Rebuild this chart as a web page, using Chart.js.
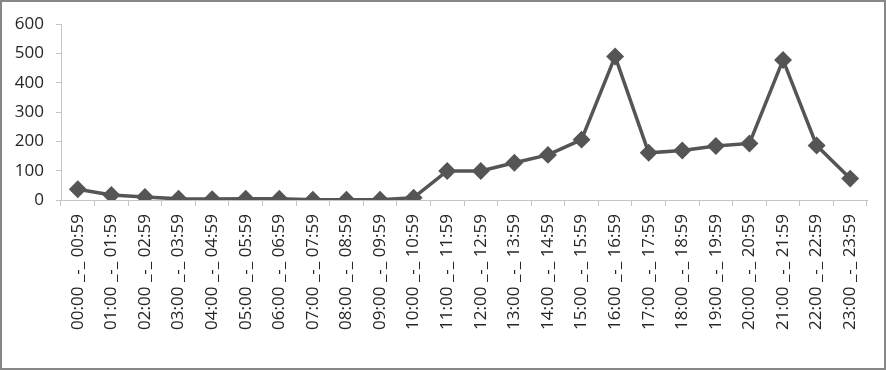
<!DOCTYPE html>
<html>
<head>
<meta charset="utf-8">
<script src="https://cdn.jsdelivr.net/npm/chart.js@4.4.1/dist/chart.umd.min.js"></script>
<style>
  html, body { margin: 0; padding: 0; background: #fff; }
  #wrap { position: relative; width: 886px; height: 370px; box-sizing: border-box; border: 2px solid #878787; }
  #chart { display: block; }
</style>
</head>
<body>
<div id="wrap"><canvas id="chart" width="882" height="366"></canvas></div>
<script>
const hours = ['00','01','02','03','04','05','06','07','08','09','10','11',
               '12','13','14','15','16','17','18','19','20','21','22','23'];
const labels = hours.map(h => `${h}:00 _-_ ${h}:59`);
const counts = [37, 17, 10, 4, 3, 4, 4, 1, 1, 1, 8, 99,
                99, 127, 154, 206, 490, 161, 169, 184, 193, 478, 186, 73];
const yTicks = [0, 100, 200, 300, 400, 500, 600];

const family = 'Open Sans, Noto Sans, sans-serif';
const axisGray = '#c4c4c4';

new Chart(document.getElementById('chart'), {
  type: 'line',
  data: {
    labels,
    datasets: [{
      data: counts,
      borderColor: '#555555', borderWidth: 3.5,
      pointStyle: 'rectRot', pointRadius: 6.5, pointHoverRadius: 6.5,
      pointBackgroundColor: '#555555', pointBorderColor: '#555555',
      tension: 0,
    }],
  },
  options: {
    responsive: false, animation: false,
    layout: { padding: { top: 22, right: 17, left: 0, bottom: 0 } },
    plugins: { legend: { display: false }, tooltip: { enabled: false } },
    scales: {
      x: {
        offset: true,
        grid: { offset: true, drawOnChartArea: false, color: axisGray, tickLength: 6 },
        border: { color: axisGray },
        ticks: { color: '#262626', font: { family, size: 17 }, minRotation: 90, maxRotation: 90, padding: 8, autoSkip: false },
        afterFit: s => { s.height = 168; },
      },
      y: {
        min: 0, max: 600,
        afterBuildTicks: s => { s.ticks = yTicks.map(v => ({ value: v })); },
        grid: { drawOnChartArea: false, color: axisGray, tickLength: 5 },
        border: { color: axisGray },
        ticks: { color: '#262626', font: { family, size: 17 }, padding: 12 },
        afterFit: s => { s.width = 59; },
      },
    },
  },
});
</script>
</body>
</html>
